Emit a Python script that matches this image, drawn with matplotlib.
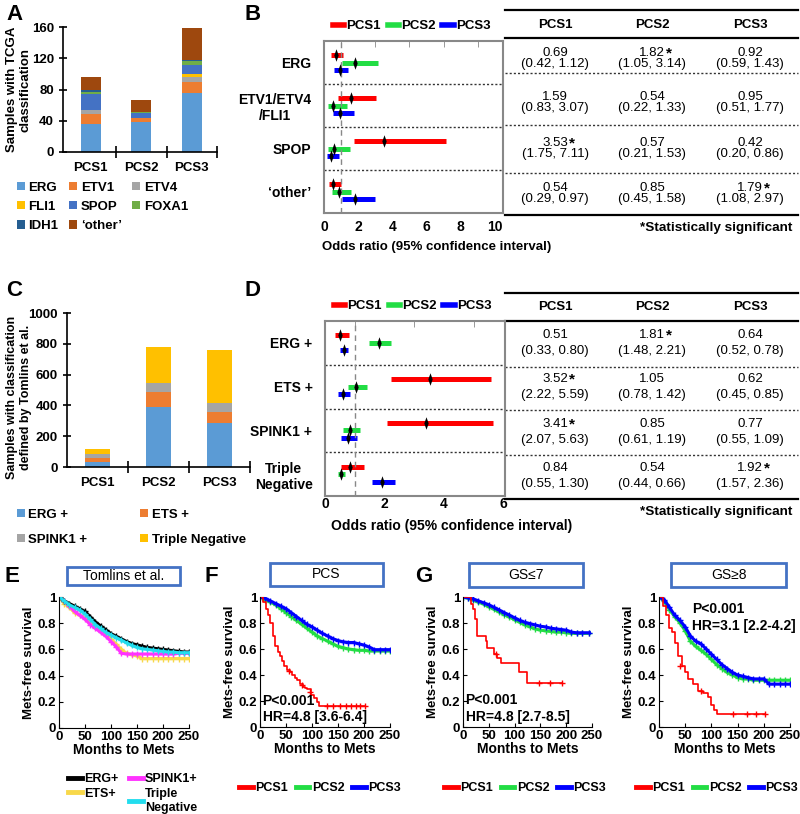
import matplotlib
matplotlib.use("Agg")
import matplotlib.pyplot as plt
from matplotlib.lines import Line2D
from matplotlib.patches import Rectangle

plt.rcParams['font.family'] = ['Liberation Sans', 'DejaVu Sans']

W, H = 800, 814

# ---------------- data ----------------
pcs = ['PCS1', 'PCS2', 'PCS3']

# A: TCGA classes
tcga_labels = ['ERG', 'ETV1', 'ETV4', 'FLI1', 'SPOP', 'FOXA1', 'IDH1', '\u2018other\u2019']
tcga_erg = [36, 39, 76]
tcga_etv1 = [13, 5, 13]
tcga_etv4 = [5, 0, 7]
tcga_fli1 = [0, 0, 4]
tcga_spop = [20, 6, 12]
tcga_foxa1 = [3, 1, 5]
tcga_idh1 = [2, 0, 1]
tcga_other = [17, 16, 41]

# C: Tomlins classes
tom_labels = ['ERG +', 'ETS +', 'SPINK1 +', 'Triple Negative']
tom_erg = [30, 391, 283]
tom_ets = [30, 94, 71]
tom_spink1 = [25, 63, 61]
tom_tn = [30, 230, 342]

# B: odds ratios (rows = groups, cols = PCS1..3)
b_groups = ['ERG', 'ETV1/ETV4\n/FLI1', 'SPOP', '\u2018other\u2019']
b_or = [[0.69, 1.82, 0.92], [1.59, 0.54, 0.95], [3.53, 0.57, 0.42], [0.54, 0.85, 1.79]]
b_lo = [[0.42, 1.05, 0.59], [0.83, 0.22, 0.51], [1.75, 0.21, 0.20], [0.29, 0.45, 1.08]]
b_hi = [[1.12, 3.14, 1.43], [3.07, 1.33, 1.77], [7.11, 1.53, 0.86], [0.97, 1.58, 2.97]]
b_sig = [[0, 1, 0], [0, 0, 0], [1, 0, 0], [0, 0, 1]]

# D: odds ratios
d_groups = ['ERG +', 'ETS +', 'SPINK1 +', 'Triple\nNegative']
d_or = [[0.51, 1.81, 0.64], [3.52, 1.05, 0.62], [3.41, 0.85, 0.77], [0.84, 0.54, 1.92]]
d_lo = [[0.33, 1.48, 0.52], [2.22, 0.78, 0.45], [2.07, 0.61, 0.55], [0.55, 0.44, 1.57]]
d_hi = [[0.80, 2.21, 0.78], [5.59, 1.42, 0.85], [5.63, 1.19, 1.09], [1.30, 0.66, 2.36]]
d_sig = [[0, 1, 0], [1, 0, 0], [1, 0, 0], [0, 0, 1]]

# E: survival by Tomlins class
t_e = [0, 10, 20, 30, 40, 50, 60, 70, 80, 90, 100, 110, 120, 130, 140, 150, 160, 170, 180, 190, 200, 210, 220, 230, 240, 250]
s_e_ets = [1.0, 0.95, 0.92, 0.88, 0.86, 0.84, 0.80, 0.77, 0.74, 0.71, 0.68, 0.64, 0.60, 0.57, 0.56, 0.55, 0.53, 0.53, 0.53, 0.53, 0.53, 0.53, 0.53, 0.53, 0.53, 0.53]
s_e_spink = [1.0, 0.97, 0.93, 0.89, 0.86, 0.83, 0.79, 0.76, 0.73, 0.70, 0.66, 0.62, 0.57, 0.565, 0.565, 0.565, 0.565, 0.565, 0.565, 0.565, 0.565, 0.565, 0.565, 0.57, 0.57, 0.57]
s_e_erg = [1.0, 0.97, 0.95, 0.93, 0.91, 0.89, 0.85, 0.81, 0.78, 0.75, 0.72, 0.70, 0.68, 0.66, 0.645, 0.635, 0.625, 0.615, 0.61, 0.605, 0.60, 0.595, 0.59, 0.585, 0.58, 0.58]
s_e_tn = [1.0, 0.97, 0.94, 0.92, 0.90, 0.87, 0.83, 0.79, 0.76, 0.73, 0.71, 0.69, 0.67, 0.65, 0.63, 0.615, 0.605, 0.60, 0.595, 0.59, 0.585, 0.58, 0.58, 0.575, 0.575, 0.575]

# F: survival by PCS
t_f_red = [0, 6, 12, 16, 20, 25, 29, 34, 38, 42, 47, 52, 57, 62, 67, 71, 77, 83, 87, 91, 99, 104, 109, 114, 202]
s_f_red = [1.0, 0.96, 0.91, 0.86, 0.80, 0.70, 0.62, 0.58, 0.545, 0.51, 0.47, 0.44, 0.42, 0.40, 0.38, 0.36, 0.33, 0.31, 0.30, 0.29, 0.25, 0.22, 0.195, 0.165, 0.165]
c_f_red = [55, 80, 96, 128, 140, 153, 166, 175, 185, 192, 201]
s_c_f_red = [0.43, 0.32, 0.27, 0.165, 0.165, 0.165, 0.165, 0.165, 0.165, 0.165, 0.165]
t_f = t_e
s_f_green = [1.0, 0.98, 0.96, 0.94, 0.91, 0.88, 0.85, 0.82, 0.79, 0.76, 0.73, 0.70, 0.68, 0.66, 0.64, 0.62, 0.61, 0.60, 0.595, 0.59, 0.59, 0.585, 0.585, 0.585, 0.585, 0.585]
s_f_blue = [1.0, 0.99, 0.97, 0.95, 0.93, 0.91, 0.88, 0.85, 0.82, 0.79, 0.77, 0.745, 0.72, 0.70, 0.68, 0.665, 0.655, 0.65, 0.65, 0.64, 0.63, 0.615, 0.595, 0.595, 0.595, 0.595]

# G1: GS<=7
t_g1_red = [0, 16, 20, 24, 27, 28, 44, 46, 60, 66, 73, 108, 124, 192]
s_g1_red = [1.0, 0.95, 0.91, 0.83, 0.76, 0.70, 0.66, 0.61, 0.56, 0.53, 0.49, 0.42, 0.34, 0.34]
c_g1_red = [63, 147, 169, 192]
s_c_g1_red = [0.56, 0.34, 0.34, 0.34]
t_g1 = [0, 10, 20, 30, 40, 50, 60, 70, 80, 90, 100, 110, 120, 130, 140, 150, 160, 170, 180, 190, 200, 210, 220, 230, 245]
s_g1_green = [1.0, 0.99, 0.975, 0.96, 0.945, 0.925, 0.905, 0.885, 0.865, 0.845, 0.825, 0.805, 0.785, 0.77, 0.755, 0.745, 0.74, 0.735, 0.73, 0.73, 0.725, 0.72, 0.72, 0.72, 0.72]
s_g1_blue = [1.0, 0.995, 0.985, 0.97, 0.955, 0.94, 0.92, 0.90, 0.88, 0.86, 0.84, 0.82, 0.805, 0.795, 0.785, 0.775, 0.77, 0.76, 0.755, 0.75, 0.745, 0.73, 0.725, 0.725, 0.725]

# G2: GS>=8
t_g2_red = [0, 8, 13, 19, 25, 30, 36, 43, 49, 55, 65, 75, 84, 94, 100, 105, 110, 202]
s_g2_red = [1.0, 0.93, 0.86, 0.76, 0.73, 0.65, 0.55, 0.47, 0.42, 0.37, 0.33, 0.28, 0.26, 0.23, 0.17, 0.13, 0.10, 0.10]
c_g2_red = [40, 81, 142, 167, 185, 202]
s_c_g2_red = [0.47, 0.28, 0.10, 0.10, 0.10, 0.10]
t_g2 = t_e
s_g2_green = [1.0, 0.97, 0.90, 0.85, 0.80, 0.74, 0.66, 0.62, 0.59, 0.56, 0.52, 0.48, 0.45, 0.42, 0.40, 0.38, 0.37, 0.37, 0.36, 0.36, 0.36, 0.36, 0.36, 0.36, 0.36, 0.36]
s_g2_blue = [1.0, 0.98, 0.92, 0.86, 0.82, 0.77, 0.70, 0.66, 0.64, 0.60, 0.56, 0.52, 0.48, 0.45, 0.42, 0.40, 0.39, 0.38, 0.37, 0.37, 0.37, 0.33, 0.33, 0.33, 0.33, 0.33]

# ---------------- styles ----------------
tcga_colors = ['#5B9BD5', '#ED7D31', '#A5A5A5', '#FFC000', '#4472C4', '#70AD47', '#255E91', '#9E480E']
tom_colors = ['#5B9BD5', '#ED7D31', '#A5A5A5', '#FFC000']
pcs_colors = ['#FF0000', '#22DD44', '#0000FF']
FS = 9.5
thin_diamond = [(0, 1), (0.35, 0), (0, -1), (-0.35, 0), (0, 1)]

fig = plt.figure(figsize=(8, 8.14), dpi=100)


def px_axes(x0, y0, x1, y1, **kw):
    return fig.add_axes([x0 / W, 1 - y1 / H, (x1 - x0) / W, (y1 - y0) / H], **kw)


ov = fig.add_axes([0, 0, 1, 1], zorder=-5)
ov.set_xlim(0, W)
ov.set_ylim(H, 0)
ov.axis('off')

for lab, x, y in [('A', 6, 14), ('B', 244, 14), ('C', 6, 290), ('D', 244, 290),
                  ('E', 4, 577), ('F', 204, 577), ('G', 415, 577)]:
    ov.text(x, y, lab, fontsize=16, fontweight='bold', va='center', ha='left')


# ---------------- stacked bars ----------------
def stacked(ax, series, colors, labels, width):
    bottom = [0, 0, 0]
    for vals, c, lab in zip(series, colors, labels):
        ax.bar(range(3), vals, width, bottom=bottom, color=c, label=lab)
        bottom = [b + v for b, v in zip(bottom, vals)]
    ax.set_xlim(-0.55, 2.5)
    ax.set_xticks(range(3))
    ax.set_xticklabels(pcs, fontweight='bold', fontsize=FS)
    ax.tick_params(axis='x', length=0, pad=7)
    ax.set_xticks([0.5, 1.5, 2.5], minor=True)
    ax.tick_params(axis='x', which='minor', direction='inout', length=9, width=1.2)
    ax.tick_params(axis='y', direction='inout', length=6, width=1.2, labelsize=FS)
    ax.spines['top'].set_visible(False)
    ax.spines['right'].set_visible(False)
    for s in ['left', 'bottom']:
        ax.spines[s].set_linewidth(1.2)


axA = px_axes(63, 27, 217, 152)
stacked(axA, [tcga_erg, tcga_etv1, tcga_etv4, tcga_fli1, tcga_spop, tcga_foxa1, tcga_idh1, tcga_other],
        tcga_colors, tcga_labels, 0.4)
axA.set_ylim(0, 160)
axA.set_yticks([0, 40, 80, 120, 160])
axA.set_yticklabels(['0', '40', '80', '120', '160'], fontweight='bold', fontsize=FS)
axA.set_ylabel('Samples with TCGA\nclassification', fontweight='bold', fontsize=FS)
axA.yaxis.set_label_coords((32 - 63) / 154, 0.5)
h, l = axA.get_legend_handles_labels()
order = [0, 3, 6, 1, 4, 7, 2, 5]
axA.legend([h[i] for i in order], [l[i] for i in order], ncol=3, frameon=False,
           loc='upper left', bbox_to_anchor=(10 / W, 1 - 175 / H), bbox_transform=fig.transFigure,
           prop={'weight': 'bold', 'size': FS}, handlelength=0.6, handleheight=0.6,
           handletextpad=0.3, columnspacing=0.8, labelspacing=0.55, borderpad=0)

axC = px_axes(67, 313, 250, 467)
stacked(axC, [tom_erg, tom_ets, tom_spink1, tom_tn], tom_colors, tom_labels, 0.4)
axC.set_xlim(-0.5, 2.5)
axC.set_ylim(0, 1000)
axC.set_yticks(range(0, 1001, 200))
axC.set_yticklabels([str(v) for v in range(0, 1001, 200)], fontweight='bold', fontsize=FS)
axC.set_ylabel('Samples with classification\ndefined by Tomlins et al.', fontweight='bold',
               fontsize=FS - 0.5)
axC.yaxis.set_label_coords((32 - 67) / 183, 0.45)
h, l = axC.get_legend_handles_labels()
axC.legend([h[0], h[2], h[1], h[3]], [l[0], l[2], l[1], l[3]], ncol=2, frameon=False,
           loc='upper left', bbox_to_anchor=(10 / W, 1 - 502 / H), bbox_transform=fig.transFigure,
           prop={'weight': 'bold', 'size': FS}, handlelength=0.6, handleheight=0.6,
           handletextpad=0.3, columnspacing=4.0, labelspacing=1.0, borderpad=0)


# ---------------- forest plots ----------------
def forest(ax, groups, ors, los, his, xmax, xticks, pad):
    offs = [-0.17, 0.0, 0.17]
    for g in range(4):
        for k in range(3):
            y = g + 0.5 + offs[k]
            ax.hlines(y, los[g][k], his[g][k], color=pcs_colors[k], lw=3.6)
            ax.plot(ors[g][k], y, marker=thin_diamond, color='k', ms=9, mew=0, zorder=5)
    for y in [1, 2, 3]:
        ax.axhline(y, ls=(0, (1.5, 1.5)), color='#333333', lw=1)
    ax.axvline(1, ls=(0, (4, 3)), color='#888888', lw=1)
    ax.set_xlim(0, xmax)
    ax.set_ylim(4, 0)
    ax.set_yticks([0.5, 1.5, 2.5, 3.5])
    ax.set_yticklabels(groups, fontweight='bold', fontsize=FS + 0.5, multialignment='center')
    ax.tick_params(axis='y', length=0, pad=9)
    ax.set_xticks(xticks)
    ax.set_xticklabels([str(v) for v in xticks], fontweight='bold', fontsize=FS + 0.5)
    ax.tick_params(axis='x', length=0, pad=pad)
    ax.set_xticks(range(1, int(xmax) + 1), minor=True)
    ax.tick_params(axis='x', which='minor', top=True, bottom=False, direction='in',
                   length=4, color='#888888')
    for s in ax.spines.values():
        s.set_color('#888888')
        s.set_linewidth(1.5)
    hs = [Line2D([], [], color=c, lw=4) for c in pcs_colors]
    ax.legend(hs, pcs, ncol=3, frameon=False, loc='lower left', bbox_to_anchor=(0.0, 1.0),
              prop={'weight': 'bold', 'size': FS}, handlelength=0.9, handletextpad=0.15,
              columnspacing=0.5, borderaxespad=0.25)


axB = px_axes(324, 41, 503, 213)
forest(axB, b_groups, b_or, b_lo, b_hi, 10.47, [0, 2, 4, 6, 8, 10], 5)
ov.text(437, 247, 'Odds ratio (95% confidence interval)', fontweight='bold', fontsize=FS,
        ha='center', va='center')

axD = px_axes(325, 321, 505, 496)
forest(axD, d_groups, d_or, d_lo, d_hi, 6.05, [0, 2, 4, 6], 1)
ov.text(452, 526, 'Odds ratio (95% confidence interval)', fontweight='bold', fontsize=FS + 0.5,
        ha='center', va='center')


# ---------------- tables ----------------
col_x = [555, 652, 750]


def table(top, head_y, head_line, rows, dots, bottom, note_y, ors, los, his, sig):
    ov.plot([505, 798], [top, top], color='k', lw=1.6)
    ov.plot([505, 798], [head_line, head_line], color='k', lw=1.6)
    ov.plot([505, 798], [bottom, bottom], color='k', lw=1.6)
    for d in dots:
        ov.plot([505, 798], [d, d], color='#333333', lw=1, ls=(0, (1.5, 1.5)))
    for k, x in enumerate(col_x):
        ov.text(x, head_y, pcs[k], fontweight='bold', fontsize=FS, ha='center', va='center')
    for g, (y1, y2) in enumerate(rows):
        for k, x in enumerate(col_x):
            t = ov.text(x, y1, f'{ors[g][k]:.2f}', fontsize=FS, ha='center', va='center')
            ov.text(x, y2, f'({los[g][k]:.2f}, {his[g][k]:.2f})', fontsize=FS,
                    ha='center', va='center')
            if sig[g][k]:
                ov.annotate('*', xy=(1, 1.05), xycoords=t, xytext=(0.5, 0),
                            textcoords='offset points', ha='left', va='top',
                            fontweight='bold', fontsize=11)
    ov.text(792, note_y, '*Statistically significant', fontweight='bold', fontsize=FS + 0.2,
            ha='right', va='center')


table(10, 25, 38, [(53, 64), (97, 108), (143, 154), (188, 199)], [73, 125, 173], 215, 228,
      b_or, b_lo, b_hi, b_sig)
table(293, 307, 321, [(335, 351), (379, 395), (424, 440), (468, 484)], [367, 410, 455], 499, 512,
      d_or, d_lo, d_hi, d_sig)


# ---------------- survival ----------------
def surv_axes(rect, box, title):
    ax = px_axes(*rect)
    ax.set_xlim(0, 250)
    ax.set_ylim(0, 1)
    ax.set_xticks([0, 50, 100, 150, 200, 250])
    ax.set_xticklabels(['0', '50', '100', '150', '200', '250'], fontweight='bold', fontsize=FS)
    ax.set_yticks([0, 0.2, 0.4, 0.6, 0.8, 1.0])
    ax.set_yticklabels(['0', '0.2', '0.4', '0.6', '0.8', '1'], fontweight='bold', fontsize=FS)
    ax.tick_params(direction='in', length=3, pad=2)
    ax.spines['top'].set_visible(False)
    ax.spines['right'].set_visible(False)
    ax.set_xlabel('Months to Mets', fontweight='bold', fontsize=FS + 0.5, labelpad=0)
    ax.set_ylabel('Mets-free survival', fontweight='bold', fontsize=FS, labelpad=2)
    x0, y0, x1, y1 = box
    ov.add_patch(Rectangle((x0, y0), x1 - x0, y1 - y0, fill=False, ec='#4472C4', lw=2))
    ov.text((x0 + x1) / 2, (y0 + y1) / 2, title, fontsize=FS + 0.5, ha='center', va='center')
    return ax


def dense(ax, t, s, color):
    ax.plot(t, s, color=color, lw=2.2, marker='+', ms=5, mew=1)


def steps(ax, t, s, ct, cs, color):
    ax.plot(t, s, color=color, lw=1.2, drawstyle='steps-post')
    ax.plot(ct, cs, ls='none', marker='+', ms=5, mew=1, color=color)


def pcs_legend(ax, xc):
    hs = [Line2D([], [], color=c, lw=3.5) for c in pcs_colors]
    ax.legend(hs, pcs, ncol=3, frameon=False, loc='center',
              bbox_to_anchor=(xc / W, 1 - 788 / H), bbox_transform=fig.transFigure,
              prop={'weight': 'bold', 'size': FS - 0.5}, handlelength=1.1,
              handletextpad=0.2, columnspacing=0.6)


axE = surv_axes((59, 597, 189, 728), (67, 567, 180, 585), 'Tomlins et al.')
dense(axE, t_e, s_e_ets, '#F8D84A')
dense(axE, t_e, s_e_spink, '#FF33FF')
dense(axE, t_e, s_e_erg, '#000000')
dense(axE, t_e, s_e_tn, '#22DDEE')
hs = [Line2D([], [], color=c, lw=3.5) for c in ['#000000', '#F8D84A', '#FF33FF', '#22DDEE']]
axE.legend(hs, ['ERG+', 'ETS+', 'SPINK1+', 'Triple\nNegative'], ncol=2, frameon=False,
           loc='upper left', bbox_to_anchor=(62 / W, 1 - 767 / H), bbox_transform=fig.transFigure,
           prop={'weight': 'bold', 'size': FS - 0.5}, handlelength=1.1, handletextpad=0.2,
           columnspacing=0.8, labelspacing=0.2, borderpad=0)

axF = surv_axes((260, 597, 390, 727), (270, 563, 383, 586), 'PCS')
dense(axF, t_f, s_f_green, pcs_colors[1])
dense(axF, t_f, s_f_blue, pcs_colors[2])
steps(axF, t_f_red, s_f_red, c_f_red, s_c_f_red, pcs_colors[0])
axF.text(0.02, 0.2, 'P<0.001', transform=axF.transAxes, fontweight='bold', fontsize=FS + 0.5,
         ha='left', va='center')
axF.text(0.02, 0.08, 'HR=4.8 [3.6-6.4]', transform=axF.transAxes, fontweight='bold',
         fontsize=FS + 0.5, ha='left', va='center')
pcs_legend(axF, 320)

axG1 = surv_axes((463, 597, 592, 727), (469, 563, 583, 587), 'GS\u22647')
dense(axG1, t_g1, s_g1_green, pcs_colors[1])
dense(axG1, t_g1, s_g1_blue, pcs_colors[2])
steps(axG1, t_g1_red, s_g1_red, c_g1_red, s_c_g1_red, pcs_colors[0])
axG1.text(0.02, 0.21, 'P<0.001', transform=axG1.transAxes, fontweight='bold', fontsize=FS + 0.5,
          ha='left', va='center')
axG1.text(0.02, 0.08, 'HR=4.8 [2.7-8.5]', transform=axG1.transAxes, fontweight='bold',
          fontsize=FS + 0.5, ha='left', va='center')
pcs_legend(axG1, 525)

axG2 = surv_axes((659, 597, 790, 727), (671, 563, 786, 587), 'GS\u22658')
dense(axG2, t_g2, s_g2_green, pcs_colors[1])
dense(axG2, t_g2, s_g2_blue, pcs_colors[2])
steps(axG2, t_g2_red, s_g2_red, c_g2_red, s_c_g2_red, pcs_colors[0])
axG2.text(0.25, 0.91, 'P<0.001', transform=axG2.transAxes, fontweight='bold', fontsize=FS + 0.5,
          ha='left', va='center')
axG2.text(0.25, 0.78, 'HR=3.1 [2.2-4.2]', transform=axG2.transAxes, fontweight='bold',
          fontsize=FS + 0.5, ha='left', va='center')
pcs_legend(axG2, 717)

fig.savefig('out.png', dpi=100)
